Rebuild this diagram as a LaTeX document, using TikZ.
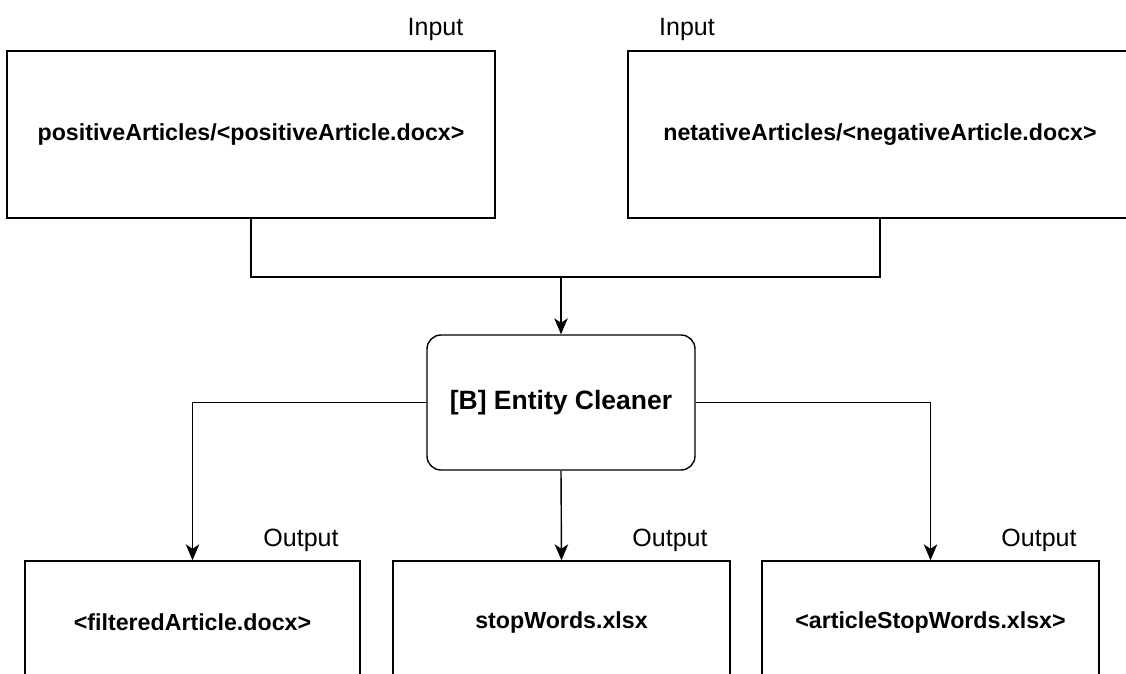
\documentclass[tikz,border=0pt]{standalone}
\usepackage{fontspec}
\setmainfont{Liberation Sans}
\usetikzlibrary{arrows.meta}

\tikzset{
  filebox/.style={draw=black, line width=1.4pt, inner sep=0pt, fill=white,
    font=\fontsize{23.2}{28}\selectfont\bfseries},
  procbox/.style={draw=black, line width=1.4pt, inner sep=0pt, fill=white,
    rounded corners=14pt, font=\fontsize{26.5}{32}\selectfont\bfseries},
  tag/.style={inner sep=0pt, font=\fontsize{25}{30}\selectfont},
  link/.style={line width=1.4pt, draw=black},
  flow/.style={link, -{Stealth[length=16pt, width=13.5pt, inset=4.5pt]}}
}

\begin{document}
\begin{tikzpicture}[x=1pt, y=-1pt]
  \useasboundingbox (0,0) rectangle (1126,673);
  \begin{scope}
    \clip (0,0) rectangle (1126,673);

    % input files
    \node[filebox, minimum width=488pt, minimum height=167pt] (pos) at (251,134.5)
      {positiveArticles/<positiveArticle.docx>};
    \node[filebox, minimum width=504pt, minimum height=167pt] (neg) at (880,134.5)
      {netativeArticles/<negativeArticle.docx>};
    \node[tag] (inpos) at (435.5,29) {Input};
    \node[tag] (inneg) at (687,29) {Input};

    % processing step
    \node[procbox, minimum width=268pt, minimum height=135pt] (clean) at (561,402.5)
      {[B] Entity Cleaner};

    % output files
    \node[filebox, minimum width=335pt, minimum height=122pt] (out1) at (192.5,622)
      {<filteredArticle.docx>};
    \node[filebox, minimum width=337pt, minimum height=122pt] (out2) at (561.5,622)
      {stopWords.xlsx};
    \node[filebox, minimum width=337pt, minimum height=122pt] (out3) at (930.5,622)
      {<articleStopWords.xlsx>};
    \node[tag] (o1) at (301,540) {Output};
    \node[tag] (o2) at (670,540) {Output};
    \node[tag] (o3) at (1039,540) {Output};

    % connectors
    \coordinate (join) at (561,277);
    \draw[link] (pos.south) |- (join) -| (neg.south);
    \draw[flow] (join) -- (clean.north);
    \draw[flow] (clean.west) -| (out1.north);
    \draw[flow] (clean.south) -- (out2.north);
    \draw[flow] (clean.east) -| (out3.north);
  \end{scope}
\end{tikzpicture}
\end{document}
